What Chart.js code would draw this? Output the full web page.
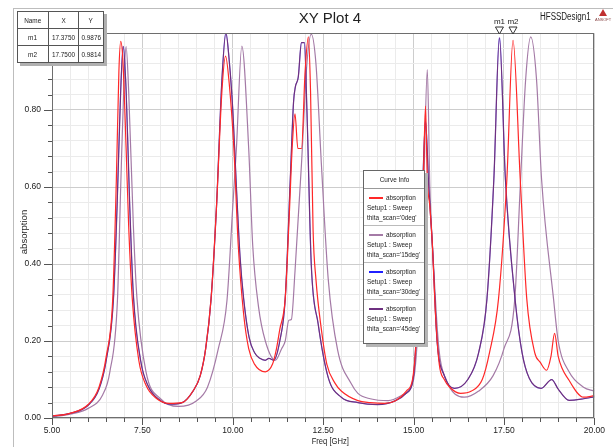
<!DOCTYPE html>
<html><head><meta charset="utf-8">
<script src="https://cdn.jsdelivr.net/npm/chart.js@4"></script>
<style>
body{margin:0;background:#fff;}
#wrap{position:relative;width:613px;height:447px;overflow:hidden;font-family:'Liberation Sans',Arial,sans-serif;color:#222;}
#c{position:absolute;left:0;top:0;}
.abs{position:absolute;white-space:nowrap;}
.cx{display:inline-block;transform:scaleX(.8);transform-origin:center;}
.cl{display:inline-block;transform:scaleX(.8);transform-origin:left center;}
#outer{position:absolute;left:13px;top:8px;width:700px;height:500px;border-left:1px solid #bdbdbd;border-top:1px solid #bdbdbd;}
#title{left:0;width:660px;top:9px;text-align:center;font-size:15px;}
#design{left:540px;top:11px;font-size:10px;}
#logo{left:599px;top:9px;width:0;height:0;border-left:4px solid transparent;border-right:4px solid transparent;border-bottom:7px solid #c03030;}
#logotxt{left:595px;top:17px;font-size:4px;color:#844;}
#ytitle{left:23px;top:232px;font-size:9.5px;transform:translate(-50%,-50%) rotate(-90deg);}
#xtitle{left:0;width:660px;top:435px;text-align:center;font-size:9.5px;}
#mtable{left:17px;top:11px;border-collapse:collapse;background:#fff;box-shadow:3px 3px 0 #b0b0b0;font-size:8px;}
#mtable td{border:1px solid #555;text-align:center;padding:0;height:16px;overflow:hidden;}
#legend{left:363px;top:170px;width:60px;height:172px;border:1px solid #666;background:#fff;box-shadow:3px 3px 0 #b5b5b5;font-size:8px;overflow:hidden;}
#legend .hd{height:17px;line-height:17px;text-align:center;border-bottom:1px solid #999;}
#legend .en{height:37px;border-bottom:1px solid #bbb;position:relative;box-sizing:border-box;padding:4px 0 0 3px;line-height:10px;}
#legend .en:last-child{border-bottom:none;}
#legend .sw{display:inline-block;width:14px;height:0;border-top:2px solid red;vertical-align:middle;margin-right:3px;margin-left:2px;}
</style></head>
<body>
<div id="wrap">
<canvas id="c" width="613" height="447"></canvas>
<div id="outer"></div>
<div id="title" class="abs">XY Plot 4</div>
<div id="design" class="abs"><span class="cl">HFSSDesign1</span></div>
<div id="logo" class="abs"></div>
<div id="logotxt" class="abs">ANSOFT</div>
<div id="ytitle" class="abs">absorption</div>
<div id="xtitle" class="abs"><span class="cx">Freq [GHz]</span></div>
<table id="mtable" class="abs"></table>
<div id="legend" class="abs"></div>
</div>
<script>
// ---- data ----
const freq0 = [5.0,5.5,6.0,6.3,6.5,6.68,6.78,6.85,6.9,6.96,7.05,7.12,7.22,7.4,7.6,7.9,8.24,8.6,8.9,9.1,9.25,9.4,9.55,9.7,9.8,9.9,10.03,10.15,10.3,10.44,10.6,10.9,11.1,11.2,11.3,11.45,11.55,11.65,11.72,11.8,11.9,12.0,12.09,12.15,12.22,12.3,12.45,12.6,12.83,13.0,13.46,13.8,14.2,14.5,14.8,14.97,15.05,15.12,15.2,15.27,15.33,15.38,15.45,15.52,15.6,15.71,15.85,16.0,16.3,16.6,16.9,17.1,17.35,17.58,17.75,17.95,18.13,18.35,18.5,18.68,18.8,18.9,19.0,19.3,19.7,20.0];
const abs0 = [0.005,0.012,0.035,0.08,0.16,0.31,0.62,0.9,0.978,0.93,0.7,0.5,0.31,0.15,0.085,0.05,0.038,0.04,0.07,0.11,0.18,0.31,0.55,0.85,0.94,0.87,0.70,0.45,0.27,0.18,0.14,0.12,0.14,0.176,0.23,0.31,0.5,0.715,0.79,0.70,0.70,0.90,0.99,0.85,0.49,0.36,0.23,0.14,0.09,0.07,0.045,0.04,0.038,0.045,0.07,0.1,0.17,0.3,0.5,0.62,0.81,0.62,0.55,0.45,0.28,0.14,0.1,0.08,0.064,0.07,0.1,0.17,0.31,0.62,0.981,0.62,0.31,0.17,0.145,0.124,0.16,0.22,0.16,0.098,0.054,0.058];

const freq15 = [5.0,5.5,6.0,6.4,6.6,6.81,6.9,7.0,7.05,7.12,7.25,7.35,7.6,8.0,8.5,9.0,9.3,9.6,9.84,10.0,10.1,10.25,10.44,10.55,10.71,10.9,11.18,11.35,11.45,11.55,11.62,11.72,11.9,12.05,12.17,12.3,12.45,12.64,12.9,13.27,13.46,13.8,14.3,14.7,15.0,15.15,15.28,15.38,15.45,15.55,15.7,15.9,16.4,16.8,17.2,17.5,17.8,17.95,18.1,18.24,18.4,18.54,18.87,19.0,19.3,19.7,20.0];
const abs15 = [0.003,0.01,0.025,0.06,0.12,0.306,0.6,0.9,0.965,0.85,0.5,0.31,0.12,0.05,0.03,0.045,0.08,0.18,0.306,0.55,0.70,0.966,0.70,0.45,0.29,0.2,0.15,0.18,0.2,0.254,0.256,0.38,0.66,0.92,0.997,0.92,0.66,0.36,0.176,0.09,0.064,0.05,0.045,0.06,0.1,0.28,0.6,0.905,0.6,0.4,0.18,0.1,0.054,0.07,0.11,0.18,0.31,0.6,0.88,0.99,0.88,0.62,0.31,0.2,0.12,0.08,0.07];

const freq30 = [5.0,5.5,6.0,6.3,6.5,6.7,6.8,6.9,6.97,7.05,7.15,7.25,7.45,7.65,8.0,8.3,8.6,8.9,9.1,9.25,9.4,9.55,9.7,9.81,9.9,10.0,10.1,10.2,10.3,10.45,10.6,10.75,10.9,11.0,11.13,11.3,11.45,11.59,11.68,11.73,11.81,11.9,11.98,12.05,12.17,12.36,12.64,13.0,13.46,14.0,14.5,14.8,15.0,15.12,15.25,15.33,15.42,15.52,15.65,15.85,16.13,16.5,16.8,17.03,17.22,17.375,17.54,17.81,18.0,18.2,18.53,18.82,19.0,19.3,19.7,20.0];
const abs30 = [0.005,0.012,0.033,0.075,0.15,0.31,0.55,0.85,0.965,0.85,0.55,0.32,0.15,0.085,0.045,0.036,0.04,0.07,0.11,0.18,0.31,0.55,0.88,1.0,0.93,0.8,0.6,0.42,0.31,0.21,0.17,0.155,0.15,0.155,0.15,0.2,0.31,0.62,0.82,0.86,0.885,0.975,0.975,0.8,0.40,0.245,0.105,0.054,0.04,0.035,0.045,0.065,0.11,0.3,0.6,0.77,0.6,0.45,0.2,0.11,0.077,0.1,0.17,0.31,0.62,0.9876,0.62,0.306,0.17,0.103,0.077,0.10,0.075,0.046,0.05,0.055];

const freq45 = [5.0,5.5,6.0,6.3,6.5,6.7,6.8,6.9,6.97,7.05,7.15,7.25,7.45,7.65,8.0,8.3,8.6,8.9,9.1,9.25,9.4,9.55,9.7,9.81,9.9,10.0,10.1,10.2,10.3,10.45,10.6,10.75,10.9,11.0,11.13,11.3,11.45,11.59,11.68,11.73,11.81,11.9,11.98,12.05,12.17,12.36,12.64,13.0,13.46,14.0,14.5,14.8,15.0,15.12,15.25,15.33,15.42,15.52,15.65,15.85,16.13,16.5,16.8,17.03,17.22,17.375,17.54,17.81,18.0,18.2,18.53,18.82,19.0,19.3,19.7,20.0];
const abs45 = [0.005,0.012,0.033,0.075,0.15,0.31,0.55,0.85,0.965,0.85,0.55,0.32,0.15,0.085,0.045,0.036,0.04,0.07,0.11,0.18,0.31,0.55,0.88,1.0,0.93,0.8,0.6,0.42,0.31,0.21,0.17,0.155,0.15,0.155,0.15,0.2,0.31,0.62,0.82,0.86,0.885,0.975,0.975,0.8,0.40,0.245,0.105,0.054,0.04,0.035,0.045,0.065,0.11,0.3,0.6,0.77,0.6,0.45,0.2,0.11,0.077,0.1,0.17,0.31,0.62,0.9876,0.62,0.306,0.17,0.103,0.077,0.10,0.075,0.046,0.05,0.055];

const seriesAngles = ["0deg","15deg","30deg","45deg"];
const xTickLabels = ["5.00","7.50","10.00","12.50","15.00","17.50","20.00"];
const yTickLabels = ["0.00","0.20","0.40","0.60","0.80"];
const markerNames = ["m1","m2"];
const markerX = [17.375, 17.75];
const markerY = [0.9876, 0.9814];

// ---- styles ----
const colors = ["#ff2828","#a47aa6","#2020ff","#6e3080"];
const widths = [1.2,1.2,0.5,1.25];
const orders = [1,4,3,2];
const FONT = "'Liberation Sans',Arial,sans-serif";

const pairs = [[freq0,abs0],[freq15,abs15],[freq30,abs30],[freq45,abs45]];
const datasets = pairs.map((p,i)=>({
  label: "absorption Setup1 : Sweep thita_scan='"+seriesAngles[i]+"'",
  data: p[0].map((f,k)=>({x:f,y:p[1][k]})),
  borderColor: colors[i], borderWidth: widths[i], pointRadius: 0, fill:false,
  cubicInterpolationMode:'monotone', order: orders[i]
}));

function xLabel(v){ const s=xTickLabels.find(l=>Math.abs(parseFloat(l)-v)<1e-6); return s||''; }
function yLabel(v){ const s=yTickLabels.find(l=>Math.abs(parseFloat(l)-v)<1e-6); return s||''; }

const framePlugin = {
  id:'frame',
  afterDraw(chart){
    const {ctx, chartArea:a, scales:{x,y}} = chart;
    ctx.save();
    ctx.strokeStyle='#6e6e6e'; ctx.lineWidth=1;
    ctx.strokeRect(Math.round(a.left)+0.5, Math.round(a.top)+0.5, Math.round(a.right-a.left)-1, Math.round(a.bottom-a.top)-1);
    ctx.strokeStyle='#555';
    ctx.beginPath();
    y.ticks.forEach(t=>{
      const py=Math.round(y.getPixelForValue(t.value))+0.5;
      const L = yLabel(t.value)? 8:4;
      ctx.moveTo(a.left-L, py); ctx.lineTo(a.left, py);
    });
    x.ticks.forEach(t=>{
      const px=Math.round(x.getPixelForValue(t.value))+0.5;
      const L = xLabel(t.value)? 7:4;
      ctx.moveTo(px, a.bottom); ctx.lineTo(px, a.bottom+L);
    });
    ctx.stroke();
    // markers
    ctx.font = "8px "+FONT; ctx.textAlign='center'; ctx.textBaseline='alphabetic';
    markerX.forEach((mx,i)=>{
      const px = x.getPixelForValue(mx);
      const py = a.top;
      ctx.beginPath();
      ctx.moveTo(px-4, py-6); ctx.lineTo(px+4, py-6); ctx.lineTo(px, py+1); ctx.closePath();
      ctx.fillStyle='#fff'; ctx.fill(); ctx.strokeStyle='#333'; ctx.stroke();
      ctx.fillStyle='#222';
      ctx.fillText(markerNames[i], px, py-9);
    });
    ctx.restore();
  }
};

new Chart(document.getElementById('c'), {
  type:'line',
  data:{datasets},
  options:{
    responsive:false, animation:false, devicePixelRatio:1,
    layout:{padding:{top:33,right:15,left:0,bottom:0}},
    plugins:{legend:{display:false}, tooltip:{enabled:false}, title:{display:false}},
    scales:{
      x:{type:'linear', min:5, max:20,
        afterFit(s){ s.height=29; },
        ticks:{stepSize:0.5, autoSkip:false, maxRotation:0, padding:8, color:'#222',
          font:{family:FONT,size:8.5}, callback:(v)=>xLabel(v)},
        grid:{drawTicks:false, color:(c)=> xLabel(c.tick.value)?'#cdcdcd':'#ebebeb', lineWidth:1},
        border:{display:false}
      },
      y:{type:'linear', min:0, max:1,
        afterFit(s){ s.width=52; },
        ticks:{stepSize:0.04, autoSkip:false, padding:11, color:'#222',
          font:{family:FONT,size:8.5}, callback:(v)=>yLabel(v)},
        grid:{drawTicks:false, color:(c)=> yLabel(c.tick.value)?'#cdcdcd':'#ebebeb', lineWidth:1},
        border:{display:false}
      }
    }
  },
  plugins:[framePlugin]
});

// marker table
const tb = document.getElementById('mtable');
const cx = (t)=>'<span class="cx">'+t+'</span>';
let html = '<tr><td style="width:30px">'+cx('Name')+'</td><td style="width:25px">'+cx('X')+'</td><td style="width:24px">'+cx('Y')+'</td></tr>';
markerNames.forEach((n,i)=>{ html += '<tr><td>'+cx(n)+'</td><td>'+cx(markerX[i].toFixed(4))+'</td><td>'+cx(markerY[i].toFixed(4))+'</td></tr>'; });
tb.innerHTML = html;

// curve info legend
const lg = document.getElementById('legend');
const cl = (t)=>'<span class="cl">'+t+'</span>';
let lh = '<div class="hd">'+cx('Curve Info')+'</div>';
seriesAngles.forEach((a,i)=>{
  lh += '<div class="en"><span class="sw" style="border-top-color:'+colors[i]+'"></span>'+cl('absorption')+'<br>'+cl('Setup1 : Sweep')+'<br>'+cl("thita_scan='"+a+"'")+'</div>';
});
lg.innerHTML = lh;
</script>
</body></html>
